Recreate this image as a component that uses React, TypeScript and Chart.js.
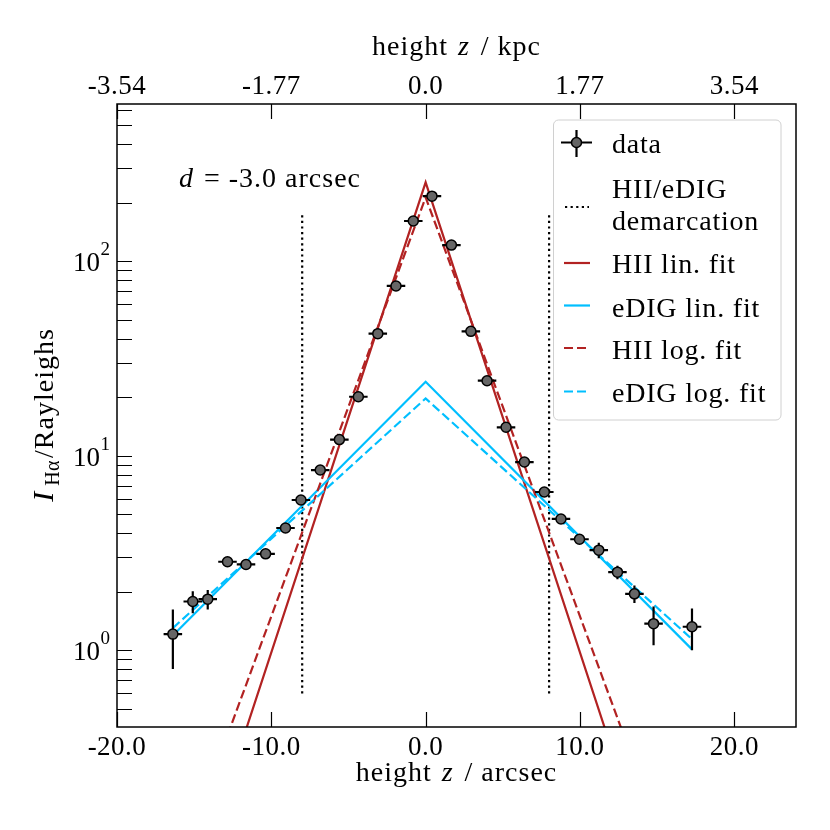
import React, { useEffect, useRef } from 'react';
import { Chart, registerables } from 'chart.js';

Chart.register(...registerables);

// ---------------- data ----------------
const dataZ = [-16.38, -15.09, -14.12, -12.84, -11.64, -10.37, -9.08, -8.08, -6.83, -5.59, -4.36, -3.10, -1.92, -0.80, 0.41, 1.67, 2.93, 3.98, 5.21, 6.40, 7.69, 8.77, 9.97, 11.22, 12.43, 13.53, 14.77, 17.26];
const dataI = [1.21, 1.78, 1.83, 2.85, 2.76, 3.13, 4.25, 5.92, 8.44, 12.1, 20.1, 42.4, 74.6, 161, 216, 121, 43.6, 24.3, 14.0, 9.28, 6.51, 4.73, 3.72, 3.27, 2.52, 1.95, 1.37, 1.32];
const dataIErr = [0.41, 0.23, 0.21, 0.12, 0.12, 0.13, 0.15, 0.2, 0.3, 0.4, 0.6, 1.2, 2.0, 4.0, 5.0, 3.0, 1.2, 0.7, 0.4, 0.3, 0.2, 0.15, 0.15, 0.3, 0.2, 0.2, 0.31, 0.32];
const dataZErr = 0.6;

const hiiLinZ = [-13, 0, 13];
const hiiLinI = [0.1835, 254.5, 0.1835];
const hiiLogZ = [-14, 0, 14];
const hiiLogI = [0.2056, 213, 0.2056];
const edigLinZ = [-16.38, 0, 17.26];
const edigLinI = [1.19, 24.0, 1.01];
const edigLogZ = [-16.38, 0, 17.26];
const edigLogI = [1.30, 19.7, 1.14];

const demarcZ = [-8.0, 8.0];
const demarcI = [0.60, 172.8];

const xTicks = [-20, -10, 0, 10, 20];
const xTickLabels = ['-20.0', '-10.0', '0.0', '10.0', '20.0'];
const topTickLabels = ['-3.54', '-1.77', '0.0', '1.77', '3.54'];
const yMajorTicks = [1, 10, 100];
const yMajorExp = ['0', '1', '2'];
const yMinorTicks = [0.5, 0.6, 0.7, 0.8, 0.9, 2, 3, 4, 5, 6, 7, 8, 9, 20, 30, 40, 50, 60, 70, 80, 90, 200, 300, 400, 500, 600];

const legendLabels: (string | string[])[] = ['data', ['HII/eDIG', 'demarcation'], 'HII lin. fit', 'eDIG lin. fit', 'HII log. fit', 'eDIG log. fit'];
const annotationText = ['d', ' = -3.0 arcsec'];

const RED = '#b22222';
const BLUE = '#00bfff';
const MARKER = '#666666';
const DASH = [9, 4];
const DOT = [2.2, 3.4];
const FONT = '"Liberation Serif", "Times New Roman", serif';
const rm = (s: number) => `${s}px ${FONT}`;
const it = (s: number) => `italic ${s}px ${FONT}`;

type Run = { t: string; f: string; dy?: number; ls?: number; pad?: number };

function runAdvance(ctx: CanvasRenderingContext2D, r: Run) {
  ctx.font = r.f;
  (ctx as any).letterSpacing = `${r.ls ?? 1}px`;
  return ctx.measureText(r.t).width + (r.pad ?? 0);
}
function drawRuns(ctx: CanvasRenderingContext2D, runs: Run[], x: number, y: number, align: 'left' | 'center' | 'right') {
  let w = 0;
  for (const r of runs) w += runAdvance(ctx, r);
  let cx = align === 'left' ? x : align === 'center' ? x - w / 2 : x - w;
  ctx.textAlign = 'left';
  ctx.textBaseline = 'alphabetic';
  for (const r of runs) {
    const adv = runAdvance(ctx, r);
    ctx.fillText(r.t, cx, y + (r.dy ?? 0));
    cx += adv;
  }
}

const customPlugin = {
  id: 'customAxes',
  beforeDatasetDraw(chart: any, args: any) {
    if (args.index !== 0) return;
    const ctx: CanvasRenderingContext2D = chart.ctx;
    const xs = chart.scales.x;
    const ys = chart.scales.y;
    ctx.save();
    ctx.strokeStyle = '#000';
    ctx.lineWidth = 2.2;
    ctx.lineCap = 'butt';
    for (let i = 0; i < dataZ.length; i++) {
      const px = xs.getPixelForValue(dataZ[i]);
      const py = ys.getPixelForValue(dataI[i]);
      const x1 = xs.getPixelForValue(dataZ[i] - dataZErr);
      const x2 = xs.getPixelForValue(dataZ[i] + dataZErr);
      const y1 = ys.getPixelForValue(dataI[i] - dataIErr[i]);
      const y2 = ys.getPixelForValue(dataI[i] + dataIErr[i]);
      ctx.beginPath();
      ctx.moveTo(x1, py);
      ctx.lineTo(x2, py);
      ctx.moveTo(px, y1);
      ctx.lineTo(px, y2);
      ctx.stroke();
    }
    ctx.restore();
  },
  afterDraw(chart: any) {
    const ctx: CanvasRenderingContext2D = chart.ctx;
    const xs = chart.scales.x;
    const ys = chart.scales.y;
    const a = chart.chartArea;
    ctx.save();
    ctx.fillStyle = '#000';
    ctx.strokeStyle = '#000';

    // ticks
    ctx.lineWidth = 1.2;
    ctx.beginPath();
    const TL = 15;
    for (const v of xTicks) {
      const px = Math.round(xs.getPixelForValue(v)) + 0.5;
      ctx.moveTo(px, a.bottom);
      ctx.lineTo(px, a.bottom - TL);
      ctx.moveTo(px, a.top);
      ctx.lineTo(px, a.top + TL);
    }
    for (const v of [...yMajorTicks, ...yMinorTicks]) {
      const py = Math.round(ys.getPixelForValue(v)) + 0.5;
      ctx.moveTo(a.left, py);
      ctx.lineTo(a.left + TL, py);
    }
    ctx.stroke();

    // frame
    ctx.lineWidth = 1.5;
    ctx.strokeRect(a.left, a.top, a.right - a.left, a.bottom - a.top);

    // tick labels
    xTicks.forEach((v, i) => {
      const px = xs.getPixelForValue(v);
      drawRuns(ctx, [{ t: xTickLabels[i], f: rm(27), ls: 0.5 }], px, 755, 'center');
      drawRuns(ctx, [{ t: topTickLabels[i], f: rm(27), ls: 0.5 }], px, 94, 'center');
    });
    yMajorTicks.forEach((v, i) => {
      const py = ys.getPixelForValue(v);
      drawRuns(ctx, [{ t: '10', f: rm(27), ls: 0 }], 100, py + 10, 'right');
      drawRuns(ctx, [{ t: yMajorExp[i], f: rm(19), ls: 0 }], 100.5, py - 6, 'left');
    });

    // axis titles
    const cx = (a.left + a.right) / 2;
    drawRuns(ctx, [
      { t: 'height ', f: rm(28), pad: 2 },
      { t: 'z', f: it(28), pad: 3 },
      { t: ' / arcsec', f: rm(28) },
    ], cx, 781, 'center');
    drawRuns(ctx, [
      { t: 'height ', f: rm(28), pad: 2 },
      { t: 'z', f: it(28), pad: 3 },
      { t: ' / kpc', f: rm(28) },
    ], cx, 55, 'center');

    ctx.save();
    ctx.translate(53, 415);
    ctx.rotate(-Math.PI / 2);
    drawRuns(ctx, [
      { t: 'I', f: it(30), pad: 5 },
      { t: 'Hα', f: rm(20), dy: 6, ls: 0.5, pad: 2 },
      { t: '/Rayleighs', f: rm(28) },
    ], 0, 0, 'center');
    ctx.restore();

    // annotation
    drawRuns(ctx, [
      { t: annotationText[0], f: it(28), pad: 2 },
      { t: annotationText[1], f: rm(28) },
    ], 179, 187, 'left');

    // legend
    const bx = 553.5, by = 120, bw = 227.5, bh = 300, br = 5;
    ctx.beginPath();
    ctx.moveTo(bx + br, by);
    ctx.arcTo(bx + bw, by, bx + bw, by + bh, br);
    ctx.arcTo(bx + bw, by + bh, bx, by + bh, br);
    ctx.arcTo(bx, by + bh, bx, by, br);
    ctx.arcTo(bx, by, bx + bw, by, br);
    ctx.closePath();
    ctx.fillStyle = 'rgba(255,255,255,0.85)';
    ctx.fill();
    ctx.strokeStyle = '#d0d0d0';
    ctx.lineWidth = 1;
    ctx.stroke();

    // handles
    ctx.lineCap = 'butt';
    ctx.strokeStyle = '#000';
    ctx.lineWidth = 2.2;
    ctx.setLineDash([]);
    ctx.beginPath();
    ctx.moveTo(561, 142.5); ctx.lineTo(592, 142.5);
    ctx.moveTo(576.5, 130); ctx.lineTo(576.5, 157);
    ctx.stroke();
    ctx.beginPath();
    ctx.arc(576.5, 142.5, 5, 0, Math.PI * 2);
    ctx.fillStyle = MARKER;
    ctx.fill();
    ctx.lineWidth = 1.5;
    ctx.stroke();
    ctx.lineWidth = 2.2;
    ctx.setLineDash(DOT);
    ctx.beginPath();
    ctx.moveTo(565, 207); ctx.lineTo(589, 207);
    ctx.stroke();
    const lineHandles: [number, string, number[]][] = [
      [263, RED, []],
      [305.5, BLUE, []],
      [348, RED, DASH],
      [391.5, BLUE, DASH],
    ];
    for (const [y, c, d] of lineHandles) {
      ctx.strokeStyle = c;
      ctx.setLineDash(d);
      ctx.beginPath();
      ctx.moveTo(564, y); ctx.lineTo(590, y);
      ctx.stroke();
    }
    ctx.setLineDash([]);

    ctx.fillStyle = '#000';
    const tx = 612;
    const baselines = [[153.3], [198.3, 230], [273.3], [316.5], [358.5], [401.7]];
    legendLabels.forEach((lab, i) => {
      const lines = Array.isArray(lab) ? lab : [lab];
      lines.forEach((l, j) => drawRuns(ctx, [{ t: l, f: rm(28), ls: 0.8 }], tx, baselines[i][j], 'left'));
    });

    ctx.restore();
  },
};

const pts = (xs: number[], ys: number[]) => xs.map((x, i) => ({ x, y: ys[i] }));

export default function App() {
  const ref = useRef<HTMLCanvasElement>(null);
  useEffect(() => {
    document.body.style.margin = '0';
    const canvas = ref.current!;
    const lineDs = (label: string, data: any[], color: string, dash: number[], order: number, width = 2.2) => ({
      label, data, showLine: true, borderColor: color, backgroundColor: color, borderWidth: width,
      borderDash: dash, pointRadius: 0, pointHoverRadius: 0, order, fill: false, tension: 0,
    });
    const chart = new Chart(canvas, {
      type: 'scatter',
      data: {
        datasets: [
          {
            label: 'data', data: pts(dataZ, dataI), showLine: false, pointRadius: 5,
            pointBackgroundColor: MARKER, pointBorderColor: '#000', pointBorderWidth: 1.5, order: 0,
          } as any,
          lineDs('eDIG log. fit', pts(edigLogZ, edigLogI), BLUE, DASH, 1),
          lineDs('HII log. fit', pts(hiiLogZ, hiiLogI), RED, DASH, 2),
          lineDs('eDIG lin. fit', pts(edigLinZ, edigLinI), BLUE, [], 3),
          lineDs('HII lin. fit', pts(hiiLinZ, hiiLinI), RED, [], 4),
          lineDs('HII/eDIG demarcation', [{ x: demarcZ[0], y: demarcI[0] }, { x: demarcZ[0], y: demarcI[1] }], '#000', DOT, 5),
          lineDs('HII/eDIG demarcation R', [{ x: demarcZ[1], y: demarcI[0] }, { x: demarcZ[1], y: demarcI[1] }], '#000', DOT, 6),
        ],
      },
      options: {
        animation: false,
        responsive: false,
        events: [],
        layout: { padding: { left: 117, top: 104, right: 34, bottom: 103 } },
        scales: {
          x: { type: 'linear', min: -20, max: 24, display: false },
          y: { type: 'logarithmic', min: 0.403, max: 643, display: false },
        },
        plugins: { legend: { display: false }, tooltip: { enabled: false } },
      },
      plugins: [customPlugin as any],
    });
    return () => chart.destroy();
  }, []);
  return (
    <div style={{ width: 830, height: 830, background: '#fff' }}>
      <canvas ref={ref} width={830} height={830} style={{ display: 'block' }} />
    </div>
  );
}
